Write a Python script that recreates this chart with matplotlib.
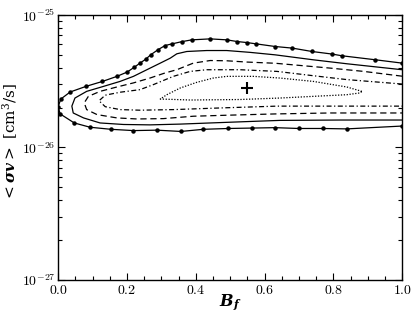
import matplotlib
matplotlib.use("Agg")
import matplotlib.pyplot as plt
import numpy as np
from matplotlib.ticker import FixedLocator, MultipleLocator, LogLocator, NullFormatter, FuncFormatter

plt.rcParams['mathtext.fontset'] = 'cm'
plt.rcParams['font.family'] = 'serif'
plt.rcParams['font.serif'] = ['DejaVu Serif']

# <sigma v> values in units of 1e-26 cm^3/s
# outermost contour (solid, with points): upper branch right->left, then lower left->right
outer_x = [1.0, 0.922, 0.825, 0.796, 0.738, 0.681, 0.631, 0.576, 0.549, 0.521, 0.490, 0.442,
           0.389, 0.361, 0.331, 0.311, 0.290, 0.269, 0.255, 0.238, 0.222, 0.201, 0.171,
           0.129, 0.081, 0.035, 0.008, 0.0,
           0.006, 0.047, 0.093, 0.154, 0.219, 0.287, 0.357, 0.422, 0.495, 0.563, 0.631,
           0.699, 0.769, 0.839, 1.0]
outer_y = [4.33, 4.59, 4.92, 5.07, 5.30, 5.62, 5.78, 6.05, 6.19, 6.30, 6.49, 6.60,
           6.49, 6.30, 6.05, 5.88, 5.46, 5.00, 4.64, 4.33, 4.04, 3.71, 3.44,
           3.15, 2.89, 2.62, 2.32, 2.03,
           1.79, 1.53, 1.42, 1.37, 1.34, 1.35, 1.32, 1.37, 1.39, 1.40, 1.41,
           1.39, 1.39, 1.38, 1.45]

solid_x = [1.0, 0.840, 0.741, 0.631, 0.558, 0.490, 0.432, 0.374, 0.345, 0.326, 0.297, 0.258,
           0.219, 0.180, 0.132, 0.083, 0.049, 0.040,
           0.044, 0.074, 0.122, 0.190, 0.267, 0.355, 0.442, 0.558, 0.645, 0.820, 1.0]
solid_y = [3.86, 4.28, 4.59, 5.00, 5.22, 5.39, 5.39, 5.30, 5.09, 4.72, 4.33, 3.86,
           3.44, 3.15, 2.89, 2.65, 2.36, 2.05,
           1.82, 1.67, 1.53, 1.49, 1.48, 1.50, 1.53, 1.57, 1.60, 1.61, 1.61]

dashed_x = [1.0, 0.888, 0.791, 0.631, 0.549, 0.490, 0.442, 0.393, 0.345, 0.311, 0.267,
            0.219, 0.171, 0.122, 0.088, 0.076,
            0.083, 0.113, 0.171, 0.229, 0.306, 0.393, 0.490, 0.631, 0.791, 1.0]
dashed_y = [3.45, 3.75, 3.97, 4.32, 4.41, 4.51, 4.53, 4.33, 3.86, 3.65, 3.34,
            3.07, 2.86, 2.65, 2.43, 2.17,
            1.93, 1.77, 1.67, 1.64, 1.65, 1.72, 1.75, 1.79, 1.82, 1.82]

dashdot_x = [1.0, 0.840, 0.741, 0.636, 0.529, 0.432, 0.384, 0.335, 0.277, 0.238, 0.180,
             0.137, 0.119,
             0.137, 0.180, 0.238, 0.335, 0.481, 0.636, 0.820, 1.0]
dashdot_y = [3.01, 3.25, 3.48, 3.75, 3.86, 3.86, 3.75, 3.44, 2.98, 2.73, 2.61,
             2.48, 2.25,
             2.03, 1.93, 1.91, 1.93, 1.99, 2.05, 2.05, 2.05]

dotted_x = [0.883, 0.839, 0.742, 0.645, 0.568, 0.490, 0.451, 0.403, 0.355, 0.316, 0.297,
            0.384, 0.529, 0.645, 0.742, 0.839, 0.878, 0.883]
dotted_y = [2.65, 2.86, 3.15, 3.34, 3.44, 3.44, 3.34, 3.10, 2.81, 2.50, 2.32,
            2.28, 2.30, 2.36, 2.43, 2.50, 2.58, 2.65]

best_x = 0.548
best_y = 2.8

scale = 1e-26

fig = plt.figure(figsize=(4.15, 3.12), dpi=100)
ax = fig.add_axes([0.140, 0.103, 0.829, 0.849])

ax.plot(outer_x, np.array(outer_y) * scale, color='black', lw=0.9,
        marker='o', markersize=2.2)
ax.plot(solid_x, np.array(solid_y) * scale, color='black', lw=0.9)
ax.plot(dashed_x, np.array(dashed_y) * scale, color='black', lw=0.9, dashes=(5, 3))
ax.plot(dashdot_x, np.array(dashdot_y) * scale, color='black', lw=0.9, dashes=(4, 2, 1, 2))
ax.plot(dotted_x, np.array(dotted_y) * scale, color='black', lw=0.9, dashes=(1, 1.3))
ax.plot([best_x], [best_y * scale], marker='+', color='black', markersize=8, mew=1.5)

ax.set_yscale('log')
ax.set_xlim(0, 1)
ax.set_ylim(1e-27, 1e-25)

ax.xaxis.set_major_locator(FixedLocator([0, 0.2, 0.4, 0.6, 0.8, 1.0]))
ax.xaxis.set_minor_locator(MultipleLocator(0.05))
ax.xaxis.set_major_formatter(FuncFormatter(lambda v, p: r'$\mathbf{%.1f}$' % v))
ax.yaxis.set_major_locator(FixedLocator([1e-27, 1e-26, 1e-25]))
ax.yaxis.set_minor_locator(LogLocator(base=10, subs=np.arange(2, 10)))
ax.yaxis.set_minor_formatter(NullFormatter())
ax.yaxis.set_major_formatter(FuncFormatter(
    lambda v, p: r'$\mathbf{10^{%d}}$' % int(round(np.log10(v)))))

ax.tick_params(which='both', direction='in', top=True, right=True, labelsize=10, width=0.8)
ax.tick_params(which='major', length=5, pad=2)
ax.tick_params(which='minor', length=3)
for s in ax.spines.values():
    s.set_linewidth(1.0)

ax.set_xlabel(r'$\mathbfit{B_f}$', fontsize=11.5, math_fontfamily='dejavuserif')
ax.set_ylabel(r'$<\mathbfit{\sigma v}>$ [cm$^3$/s]', fontsize=11, math_fontfamily='dejavuserif')
ax.xaxis.set_label_coords(0.5, -0.048)
ax.yaxis.set_label_coords(-0.11, 0.52)

fig.savefig('out.png', dpi=100)
